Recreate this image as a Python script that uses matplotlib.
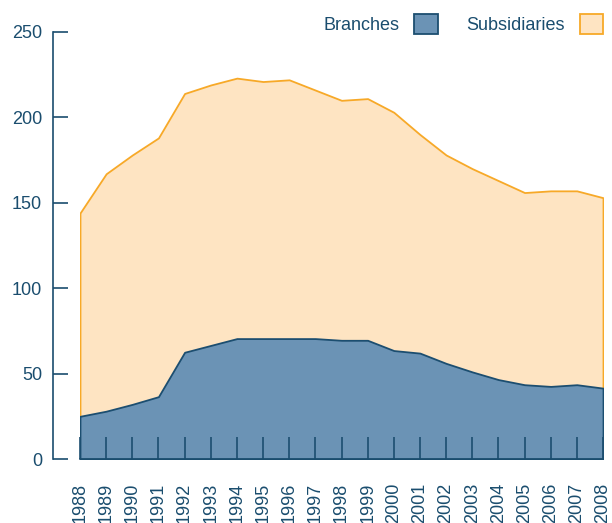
import numpy as np
import matplotlib.pyplot as plt

# 数据：分支机构与子公司数量（堆叠）
years = list(range(1988, 2009))
branches = [25, 28, 32, 36.5, 62.5, 66.5, 70.5, 70.5, 70.5, 70.5, 69.5,
            69.5, 63.5, 62, 56, 51, 46.5, 43.5, 42.5, 43.5, 41.5]
subsidiaries = [119, 139, 146, 151.5, 151.5, 152.5, 152.5, 150.5, 151.5, 145.5, 140.5,
                141.5, 139.5, 128, 122, 119, 116.5, 112.5, 114.5, 113.5, 111.5]
y_ticks = [0, 50, 100, 150, 200, 250]

text_color = '#1a4d6e'
blue_face, blue_edge = '#6b93b5', '#1c4e70'
peach_face, peach_edge = '#fee4c2', '#f7a928'

plt.rcParams['font.family'] = ['Liberation Sans', 'DejaVu Sans']
plt.rcParams['font.size'] = 13

fig = plt.figure(figsize=(6.12, 5.23), dpi=100)
ax = fig.add_axes([80 / 612, 64 / 523, 523 / 612, 427 / 523])

x = np.array(years)
total = np.array(branches) + np.array(subsidiaries)

# 先画总量（子公司在上层），再覆盖分支机构
sub_poly = ax.fill_between(x, 0, total, facecolor=peach_face, edgecolor=peach_edge,
                           linewidth=1.3, label='Subsidiaries')
br_poly = ax.fill_between(x, 0, branches, facecolor=blue_face, edgecolor=blue_edge,
                          linewidth=1.3, label='Branches')

ax.set_xlim(years[0], years[-1])
ax.set_ylim(0, 250)
ax.set_xticks(years)
ax.set_xticklabels([str(y) for y in years], rotation=90, va='top', ha='center')
ax.set_yticks(y_ticks)

for side in ['top', 'right']:
    ax.spines[side].set_visible(False)
ax.spines['left'].set_position(('outward', 19.4))
for side in ['left', 'bottom']:
    ax.spines[side].set_color(text_color)
    ax.spines[side].set_linewidth(1.2)

ax.tick_params(axis='y', direction='in', length=10.8, width=1.2, color=text_color,
               labelcolor=text_color, pad=8, labelsize=13)
ax.tick_params(axis='x', direction='in', length=15.8, width=1.2, color=blue_edge,
               labelcolor=text_color, pad=17, labelsize=13)

ax.legend(handles=[br_poly, sub_poly], labels=['Branches', 'Subsidiaries'],
          loc='center right', bbox_to_anchor=(1.0, 1.018), ncol=2, frameon=False,
          markerfirst=False, borderpad=0, borderaxespad=0, handlelength=1.3,
          handleheight=1.3, handletextpad=0.8, columnspacing=1.6,
          labelcolor=text_color, fontsize=13)

fig.savefig('out.png', dpi=100)
